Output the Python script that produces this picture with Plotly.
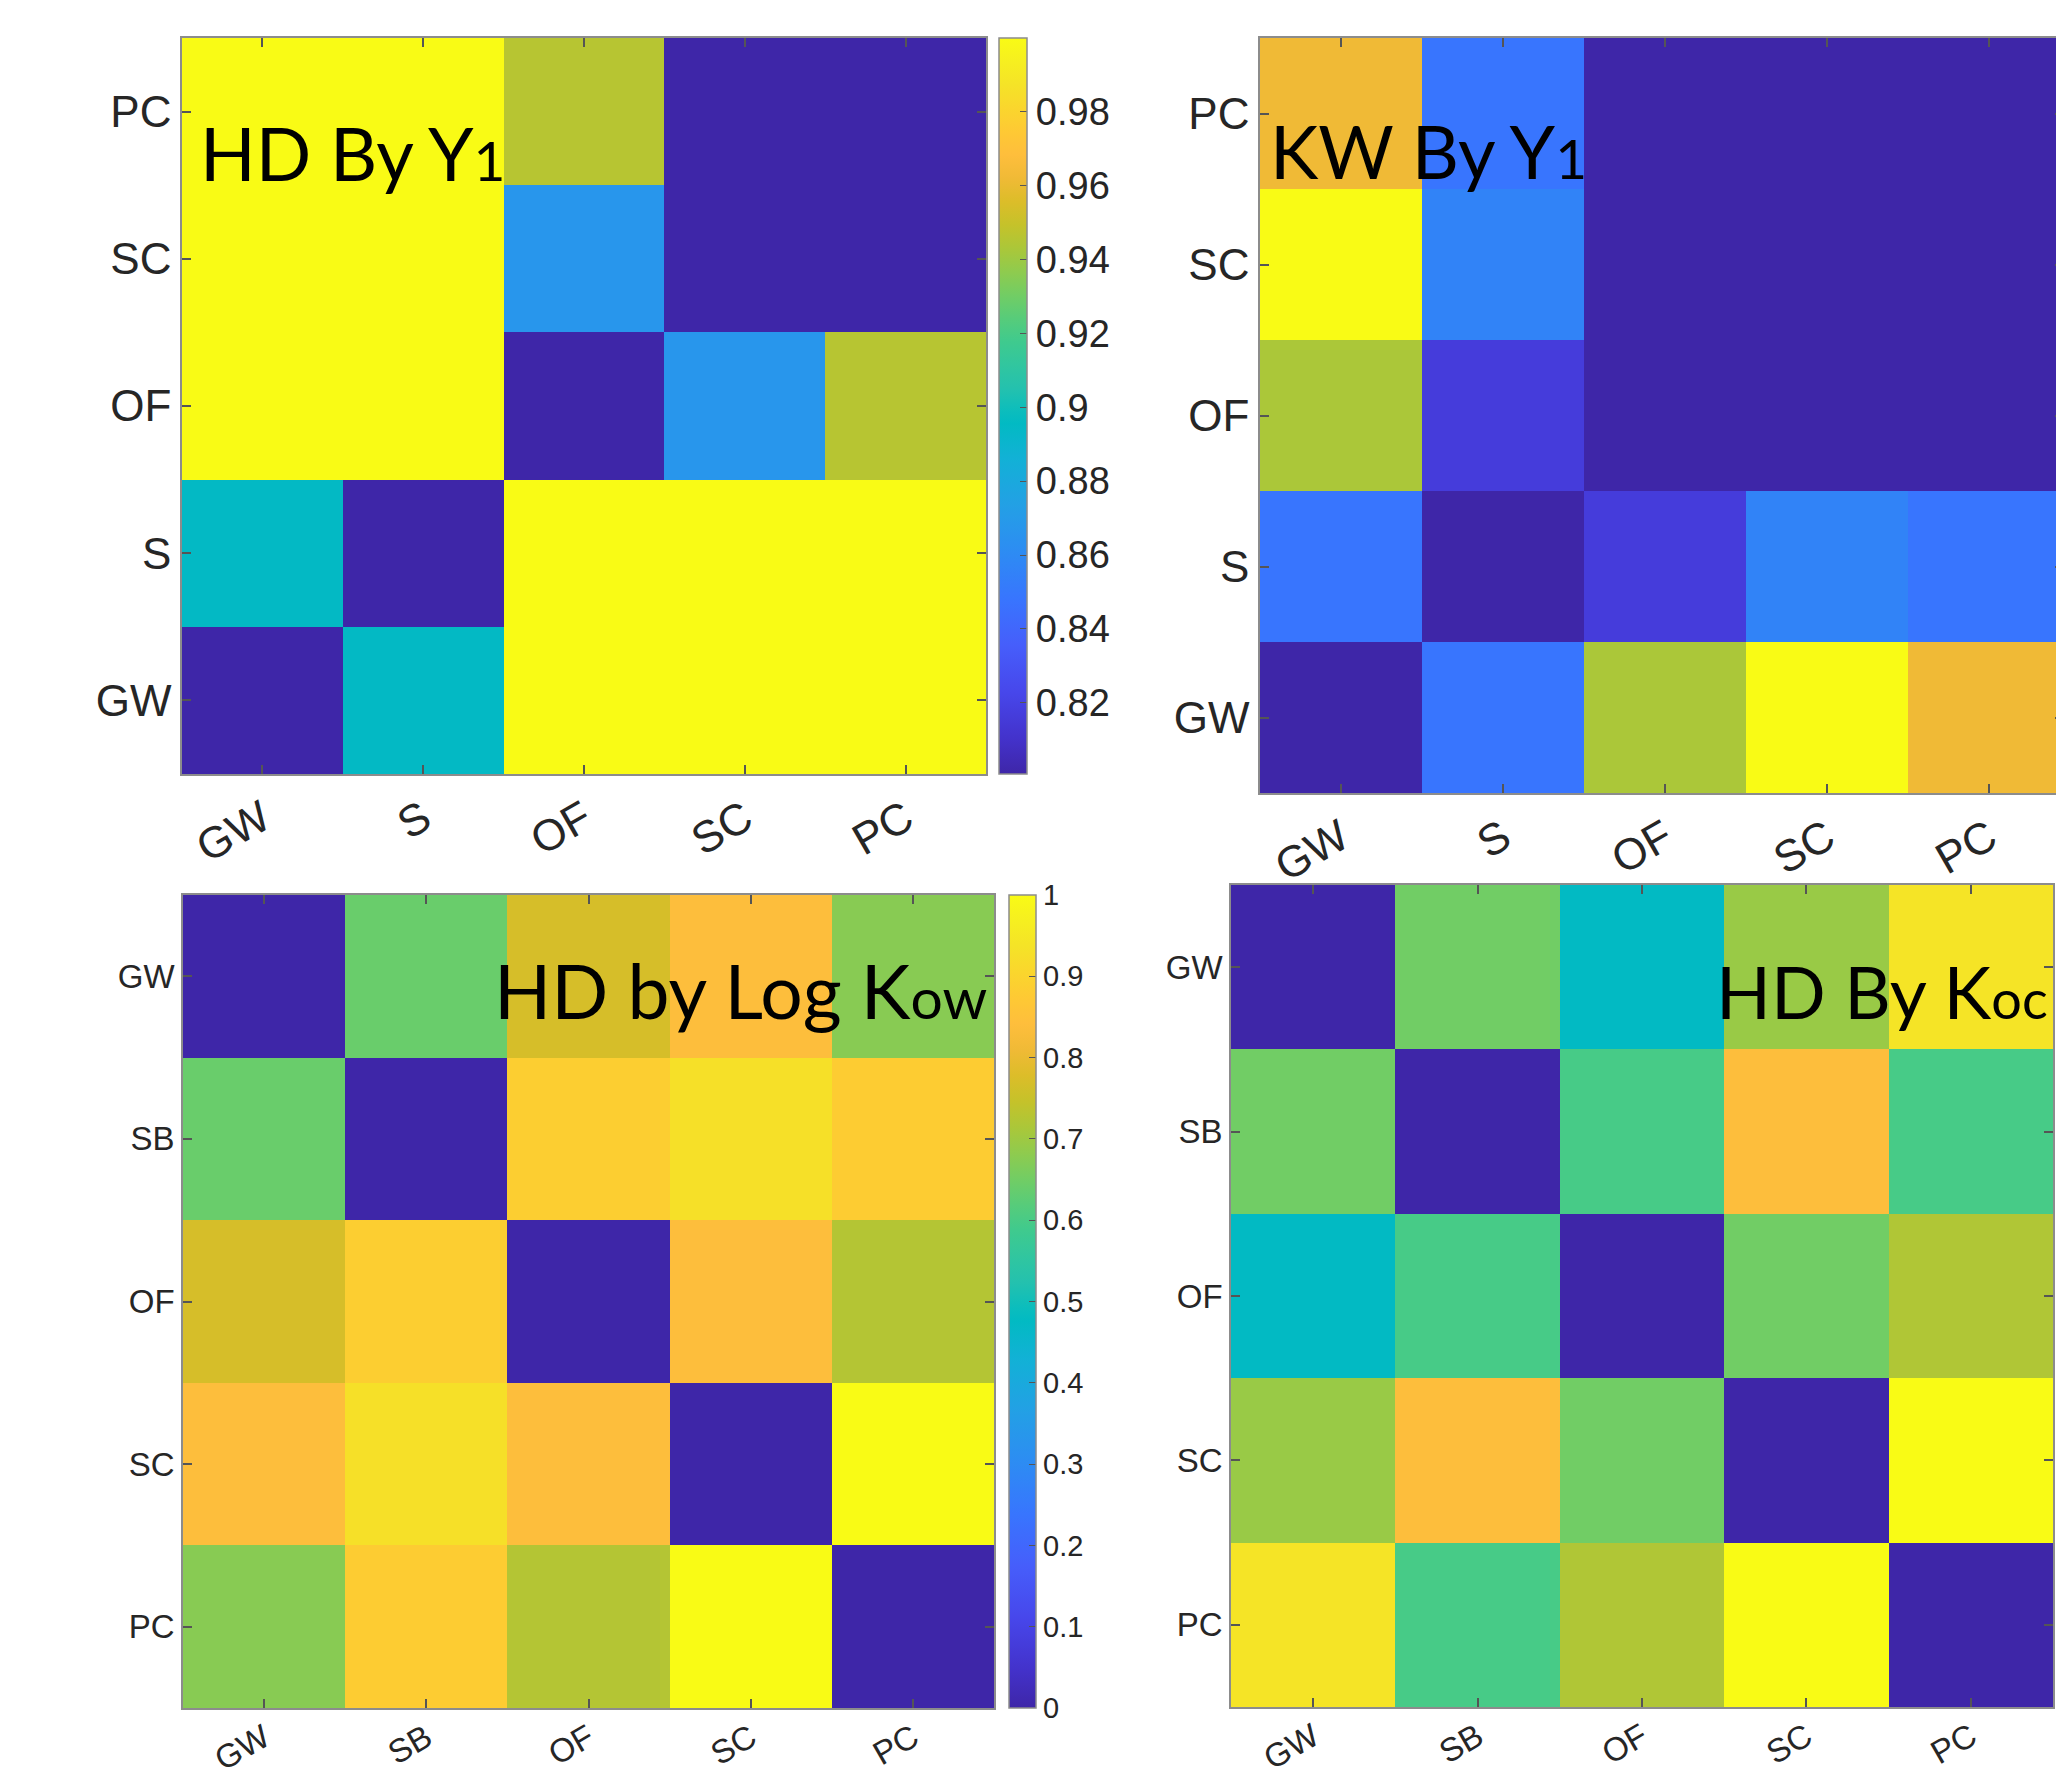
import plotly.graph_objects as go

# Mapping from reference-picture pixels to figure pixels (the page body adds an 8px margin)
OFFX, OFFY, SY = 8, 8, 1.0
W, H = 2058, 1780

# ---------------- data ----------------
cats_a = ["GW", "S", "OF", "SC", "PC"]
cats_b = ["GW", "SB", "OF", "SC", "PC"]

# Panel 1: HD By Y1 (rows = y categories GW..PC bottom->top)
hd_y1 = [
    [0.8007, 0.895, 1.0, 1.0, 1.0],
    [0.895, 0.8007, 1.0, 1.0, 1.0],
    [1.0, 1.0, 0.8007, 0.867, 0.946],
    [1.0, 1.0, 0.867, 0.8007, 0.8007],
    [1.0, 1.0, 0.946, 0.8007, 0.8007],
]
hd_y1_ticks = [0.82, 0.84, 0.86, 0.88, 0.90, 0.92, 0.94, 0.96, 0.98]

# Panel 2: KW By Y1
kw_y1 = [
    [0.0, 0.238, 0.714, 1.0, 0.81],
    [0.238, 0.0, 0.079, 0.278, 0.238],
    [0.714, 0.079, 0.0, 0.0, 0.0],
    [1.0, 0.278, 0.0, 0.0, 0.0],
    [0.81, 0.238, 0.0, 0.0, 0.0],
]

# Panel 3: HD by Log Kow (rows GW..PC top->bottom)
hd_kow = [
    [0.0, 0.64, 0.77, 0.84, 0.675],
    [0.64, 0.0, 0.885, 0.93, 0.88],
    [0.77, 0.885, 0.0, 0.84, 0.725],
    [0.84, 0.93, 0.84, 0.0, 1.0],
    [0.675, 0.88, 0.725, 1.0, 0.0],
]
kow_ticks = [0.0, 0.1, 0.2, 0.3, 0.4, 0.5, 0.6, 0.7, 0.8, 0.9, 1.0]

# Panel 4: HD By Koc
hd_koc = [
    [0.0, 0.65, 0.476, 0.694, 0.94],
    [0.65, 0.0, 0.598, 0.84, 0.598],
    [0.476, 0.598, 0.0, 0.65, 0.72],
    [0.694, 0.84, 0.65, 0.0, 1.0],
    [0.94, 0.598, 0.72, 1.0, 0.0],
]

# ---------------- style ----------------
parula_rgb = [
    (0.2422, 0.1504, 0.6603), (0.2647, 0.1978, 0.7952), (0.2803, 0.2782, 0.9221),
    (0.2760, 0.3667, 0.9829), (0.2206, 0.4603, 0.9973), (0.1764, 0.5499, 0.9520),
    (0.1380, 0.6276, 0.8973), (0.0689, 0.6948, 0.8394), (0.0067, 0.7312, 0.7660),
    (0.0433, 0.7411, 0.7394), (0.1408, 0.7584, 0.6842), (0.1938, 0.7758, 0.6251),
    (0.2470, 0.7918, 0.5567), (0.3406, 0.8008, 0.4789), (0.4456, 0.8024, 0.3909),
    (0.5616, 0.7942, 0.3045), (0.6720, 0.7793, 0.2227), (0.7738, 0.7598, 0.1646),
    (0.8634, 0.7406, 0.1596), (0.9393, 0.7288, 0.2100), (0.9956, 0.7434, 0.2371),
    (0.9952, 0.7893, 0.2028), (0.9786, 0.8386, 0.1766), (0.9610, 0.8890, 0.1537),
    (0.9628, 0.9373, 0.1265), (0.9769, 0.9839, 0.0805),
]
parula_idx = [1, 4, 8, 12, 16, 20, 24, 28, 31, 32, 34, 36, 38, 40, 42, 44, 46, 48,
              50, 52, 54, 56, 58, 60, 62, 64]
parula = [[(i - 1) / 63, "rgb(%d,%d,%d)" % tuple(round(c * 255) for c in rgb)]
          for i, rgb in zip(parula_idx, parula_rgb)]

AX_COL = "#8c8c8c"
TXT_COL = "#262626"
FONT = "Liberation Sans, Arial, sans-serif"


def px_x(v):
    return min(1.0, max(0.0, (v - OFFX) / W))


def px_y(v):
    return min(1.0, max(0.0, 1 - (v / SY - OFFY) / H))


def len_y(a, b):
    return (b - a) / SY / H


fig = go.Figure()

panels = [
    dict(z=hd_y1, x=cats_a, y=cats_a, n="", xr=(182, 986), yr=(38, 774), rev=False,
         zmin=0.8007, zmax=1.0, fs=44, so=0),
    dict(z=kw_y1, x=cats_a, y=cats_a, n="2", xr=(1260, 2064), yr=(38, 793), rev=False,
         zmin=0.0, zmax=1.0, fs=44, so=0),
    dict(z=hd_kow, x=cats_b, y=cats_b, n="3", xr=(183, 994), yr=(895, 1708), rev=True,
         zmin=0.0, zmax=1.0, fs=33, so=-4),
    dict(z=hd_koc, x=cats_b, y=cats_b, n="4", xr=(1231, 2053), yr=(885, 1707), rev=True,
         zmin=0.0, zmax=1.0, fs=33, so=-4),
]

for i, p in enumerate(panels):
    tr = dict(z=p["z"], x=p["x"], y=p["y"], colorscale=parula, zmin=p["zmin"],
              zmax=p["zmax"], xaxis="x" + p["n"], yaxis="y" + p["n"], showscale=False,
              hoverongaps=False)
    if i == 0:
        tr["showscale"] = True
        tr["colorbar"] = dict(
            x=px_x(999), xanchor="left", xpad=0, ypad=0, thickness=28,
            y=px_y((38 + 774) / 2), yanchor="middle", len=len_y(38, 774),
            lenmode="fraction", outlinewidth=1.5, outlinecolor=AX_COL, ticks="inside",
            ticklen=7, tickcolor="#555555", tickvals=hd_y1_ticks,
            ticktext=["%g" % v for v in hd_y1_ticks],
            tickfont=dict(family=FONT, size=38, color=TXT_COL))
    if i == 2:
        tr["showscale"] = True
        tr["colorbar"] = dict(
            x=px_x(1009), xanchor="left", xpad=0, ypad=0, thickness=27,
            y=px_y((895 + 1708) / 2), yanchor="middle", len=len_y(895, 1708),
            lenmode="fraction", outlinewidth=1.5, outlinecolor=AX_COL, ticks="inside",
            ticklen=7, tickcolor="#555555", tickvals=kow_ticks,
            ticktext=["%g" % v for v in kow_ticks],
            tickfont=dict(family=FONT, size=29, color=TXT_COL))
    fig.add_trace(go.Heatmap(**tr))

    x0, x1 = p["xr"]
    y0, y1 = p["yr"]
    xrange = [-0.5, 4.5]
    if p["n"] == "2":
        # last column runs off the right edge of the picture
        visible = (min(x1, OFFX + W) - x0) / 162.0
        xrange = [-0.5, -0.5 + visible]
    axcommon = dict(showline=True, linecolor=AX_COL, linewidth=1.5, mirror="allticks",
                    ticks="inside", ticklen=9, tickcolor="#555555", tickwidth=1.5,
                    showgrid=False, zeroline=False,
                    tickfont=dict(family=FONT, size=p["fs"], color=TXT_COL))
    fig.update_layout(**{
        "xaxis" + p["n"]: dict(domain=[px_x(x0), px_x(x1)], anchor="y" + p["n"],
                               range=xrange, tickangle=-30, ticklabelstandoff=p["so"],
                               **axcommon),
        "yaxis" + p["n"]: dict(domain=[px_y(y1), px_y(y0)], anchor="x" + p["n"],
                               range=[4.5, -0.5] if p["rev"] else [-0.5, 4.5],
                               **axcommon),
    })

TFONT = "Lato, Carlito, Calibri, sans-serif"
titles = [
    ("HD By Y<span style='font-size:55px'>1</span>", 198, 153, 73),
    ("KW By Y<span style='font-size:55px'>1</span>", 1268, 151, 73),
    ("HD by Log K<span style='font-size:57px'>ow</span>", 492, 990, 75),
    ("HD By K<span style='font-size:54px'>oc</span>", 1714, 991, 72),
]
for txt, xp, yp, fs in titles:
    fig.add_annotation(text=txt, xref="paper", yref="paper", x=px_x(xp), y=px_y(yp),
                       xanchor="left", yanchor="middle", showarrow=False,
                       font=dict(family=TFONT, size=fs, color="black"))

fig.update_layout(width=W, height=H, margin=dict(l=0, r=0, t=0, b=0),
                  paper_bgcolor="white", plot_bgcolor="white", showlegend=False)

fig.write_html("out.html")
